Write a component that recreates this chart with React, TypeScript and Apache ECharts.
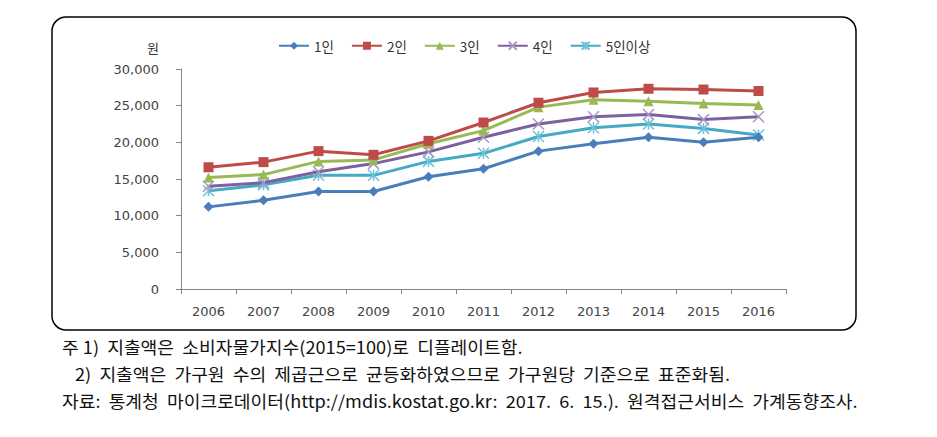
import React, { useEffect, useRef } from "react";
import * as echarts from "echarts";

const years = ["2006", "2007", "2008", "2009", "2010", "2011", "2012", "2013", "2014", "2015", "2016"];
const oneP = [11200, 12100, 13300, 13300, 15300, 16400, 18800, 19800, 20700, 20000, 20700];
const twoP = [16600, 17300, 18800, 18300, 20200, 22700, 25400, 26800, 27300, 27200, 27000];
const threeP = [15200, 15600, 17400, 17600, 19800, 21600, 24800, 25800, 25600, 25300, 25100];
const fourP = [14000, 14500, 16000, 17100, 18700, 20700, 22500, 23500, 23800, 23100, 23500];
const fiveP = [13400, 14200, 15500, 15500, 17400, 18500, 20800, 22000, 22500, 21900, 21000];
const seriesNames = ["1인", "2인", "3인", "4인", "5인이상"];
const yTicks = [0, 5000, 10000, 15000, 20000, 25000, 30000];
const notes = [
  "주 1)  지출액은  소비자물가지수(2015=100)로  디플레이트함.",
  "2)  지출액은  가구원  수의  제곱근으로  균등화하였으므로  가구원당  기준으로  표준화됨.",
  "자료:  통계청  마이크로데이터(http://mdis.kostat.go.kr:  2017.  6.  15.).  원격접근서비스  가계동향조사.",
];

const FONT = "'DejaVu Sans', 'Noto Sans CJK KR', sans-serif";
const KFONT = "'Noto Sans CJK KR', 'Noto Sans', sans-serif";

export default function App() {
  const ref = useRef<HTMLDivElement>(null);
  useEffect(() => {
    if (!ref.current) return;
    const chart = echarts.init(ref.current, undefined, { renderer: "svg" });
    const colors = ["#4A7EBB", "#BE4B48", "#98B954", "#7D60A0", "#46AAC5"];
    const datas = [oneP, twoP, threeP, fourP, fiveP];
    const symbols = [
      "diamond",
      "rect",
      "triangle",
      "path://M0,0L10,10M10,0L0,10",
      "path://M0,0L10,10M10,0L0,10M5,0L5,10",
    ];
    const sizes = [10, 10, 10, 11, 11];
    const series = datas.map((d, i) => {
      const isStroke = i >= 3;
      return {
        name: seriesNames[i],
        type: "line",
        data: d,
        symbol: symbols[i],
        symbolSize: sizes[i],
        showSymbol: true,
        lineStyle: { color: colors[i], width: 3 },
        itemStyle: isStroke
          ? { color: "rgba(0,0,0,0)", borderColor: i === 3 ? "#A898C4" : "#6CC3DA", borderWidth: 1.5 }
          : { color: colors[i], borderColor: colors[i], borderWidth: 0 },
        emphasis: { disabled: true },
        z: 10 - i,
      };
    });
    const noteStyle = (t: string) => ({ text: t, fontFamily: KFONT, fontSize: 17, fill: "#111", verticalAlign: "middle" });
    chart.setOption({
      animation: false,
      color: colors,
      legend: {
        left: 273,
        top: 34,
        itemWidth: 30,
        itemHeight: 10,
        itemGap: 17,
        textStyle: { fontFamily: KFONT, fontSize: 13.5, color: "#333" },
        data: seriesNames,
      },
      grid: { left: 181, right: 151, top: 69, bottom: 148 },
      xAxis: {
        type: "category",
        data: years,
        boundaryGap: true,
        axisLine: { lineStyle: { color: "#868686", width: 1 } },
        axisTick: { show: true, length: 5, lineStyle: { color: "#868686" } },
        axisLabel: { fontFamily: FONT, fontSize: 13, color: "#444", margin: 16 },
      },
      yAxis: {
        type: "value",
        min: 0,
        max: 30000,
        interval: 5000,
        axisLine: { show: true, lineStyle: { color: "#868686", width: 1 } },
        axisTick: { show: true, length: 5, lineStyle: { color: "#868686" } },
        splitLine: { show: false },
        axisLabel: {
          fontFamily: FONT,
          fontSize: 13,
          color: "#444",
          margin: 22,
          formatter: (v: number) => (yTicks.includes(v) ? v.toLocaleString("en-US") : ""),
        },
      },
      graphic: [
        {
          type: "rect",
          shape: { x: 52, y: 17, width: 804, height: 313, r: 14 },
          style: { fill: "none", stroke: "#000", lineWidth: 1.5 },
          silent: true,
          z: -1,
        },
        {
          type: "text",
          x: 153,
          y: 47,
          style: { text: "원", fontFamily: KFONT, fontSize: 13, fill: "#333", align: "center", verticalAlign: "middle" },
        },
        { type: "text", x: 62, y: 347, scaleX: 1.07, style: noteStyle(notes[0]) },
        { type: "text", x: 75, y: 374, scaleX: 1.07, style: noteStyle(notes[1]) },
        { type: "text", x: 62, y: 401, scaleX: 1.07, style: noteStyle(notes[2]) },
      ],
      series,
    });
    return () => chart.dispose();
  }, []);
  return (
    <div
      ref={ref}
      style={{ position: "fixed", left: 0, top: 0, width: 937, height: 437, background: "#fff" }}
    />
  );
}
